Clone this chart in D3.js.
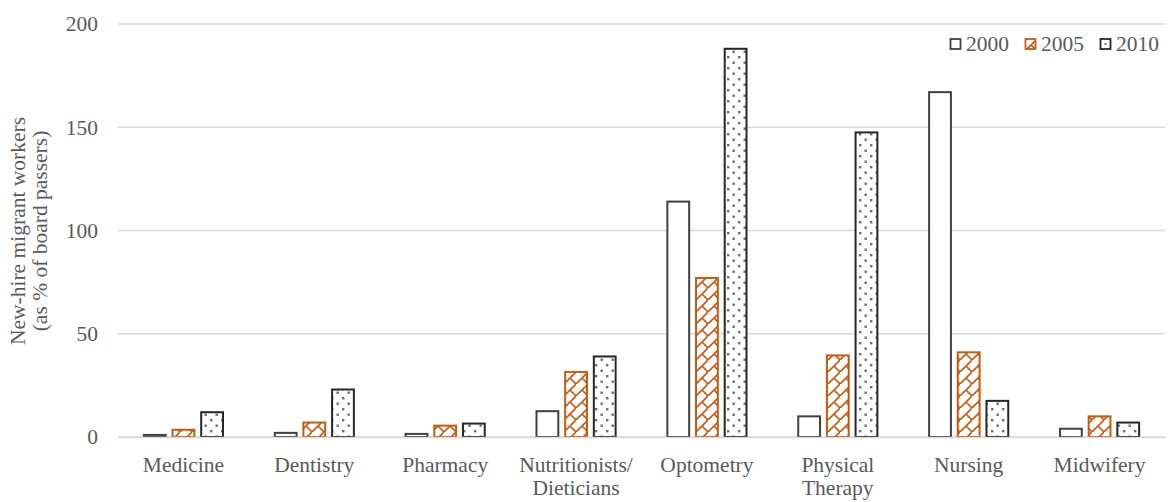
<!DOCTYPE html>
<html><head><meta charset="utf-8">
<script src="https://cdn.jsdelivr.net/npm/d3@7"></script>
<style>body{margin:0;background:#fff;} text{font-family:"Liberation Serif","Times New Roman",serif;}</style>
</head><body>
<svg id="c" width="1170" height="502"></svg>
<script>
const categories = ["Medicine","Dentistry","Pharmacy","Nutritionists/\nDieticians","Optometry","Physical\nTherapy","Nursing","Midwifery"];
const seriesNames = ["2000","2005","2010"];
const s2000 = [1, 2, 1.5, 12.5, 114, 10, 167, 4];
const s2005 = [3.5, 7, 5.5, 31.5, 77, 39.5, 41, 10];
const s2010 = [12, 23, 6.5, 39, 188, 147.5, 17.5, 7];
const yTicks = [0, 50, 100, 150, 200];

const svg = d3.select("#c");
const L = 118, R = 1165, T = 24, B = 437;
const FS = 21.5;
const defs = svg.append("defs");
const pb = defs.append("pattern").attr("id","brick").attr("patternUnits","userSpaceOnUse").attr("width",12).attr("height",12);
pb.append("rect").attr("width",12).attr("height",12).attr("fill","#fff");
pb.append("path").attr("d","M-1,13L13,-1M6,6L12,12M-6,6L0,12M6,-6L12,0").attr("stroke","#C55A11").attr("stroke-width",1.6).attr("fill","none");
const pd = defs.append("pattern").attr("id","dots").attr("patternUnits","userSpaceOnUse").attr("width",11).attr("height",11);
pd.append("rect").attr("width",11).attr("height",11).attr("fill","#fff");
pd.append("rect").attr("x",1).attr("y",1).attr("width",2.4).attr("height",2.4).attr("fill","#6e6e6e");
pd.append("rect").attr("x",6.5).attr("y",6.5).attr("width",2.4).attr("height",2.4).attr("fill","#6e6e6e");

const y = d3.scaleLinear().domain([0,200]).range([B,T]);
const x0 = d3.scaleBand().domain(d3.range(categories.length)).range([L,R]).paddingInner(0.38).paddingOuter(0.19);
const x1 = d3.scaleBand().domain(seriesNames).range([0,x0.bandwidth()]).paddingInner(0.17);

// gridlines
svg.append("g").selectAll("line").data(yTicks).join("line")
  .attr("x1",L).attr("x2",R).attr("y1",d=>y(d)).attr("y2",d=>y(d))
  .attr("stroke","#d9d9d9").attr("stroke-width",1.3);

// y axis labels
const yAxis = d3.axisLeft(y).tickValues(yTicks).tickSize(0).tickPadding(20);
const ga = svg.append("g").attr("transform",`translate(${L},0)`).call(yAxis);
ga.select(".domain").remove();
ga.selectAll("text").attr("font-size",FS).attr("fill","#595959").style("font-family","'Liberation Serif',serif");

const styles = {
  "2000": {fill:"#fff", stroke:"#404040"},
  "2005": {fill:"url(#brick)", stroke:"#C55A11"},
  "2010": {fill:"url(#dots)", stroke:"#262626"}
};
const data = [s2000, s2005, s2010];
seriesNames.forEach((s,si)=>{
  svg.append("g").selectAll("rect").data(data[si]).join("rect")
    .attr("x",(d,i)=>x0(i)+x1(s)+1)
    .attr("y",d=>y(d))
    .attr("width",x1.bandwidth()-2)
    .attr("height",d=>B-y(d))
    .attr("fill",styles[s].fill)
    .attr("stroke",styles[s].stroke)
    .attr("stroke-width",2);
});

// baseline
svg.append("line").attr("x1",L).attr("x2",R).attr("y1",B+0.5).attr("y2",B+0.5).attr("stroke","#d9d9d9").attr("stroke-width",1.5);

// category labels
const gx = svg.append("g");
categories.forEach((c,i)=>{
  const cx = x0(i)+x0.bandwidth()/2;
  const t = gx.append("text").attr("x",cx).attr("y",472)
    .attr("text-anchor","middle").attr("font-size",FS).attr("fill","#595959");
  c.split("\n").forEach((ln,k)=>t.append("tspan").attr("x",cx).attr("dy",k?23:0).text(ln));
});

// y title
const yt = svg.append("text").attr("transform","translate(0,231) rotate(-90)").attr("text-anchor","middle").attr("font-size",FS).attr("fill","#595959");
yt.append("tspan").attr("x",0).attr("y",25).text("New-hire migrant workers");
yt.append("tspan").attr("x",0).attr("y",47).text("(as % of board passers)");

// legend
const lx = [950, 1025, 1100];
seriesNames.forEach((s,i)=>{
  const g = svg.append("g").attr("transform",`translate(${lx[i]},39)`);
  g.append("rect").attr("x",0.5).attr("y",0).attr("width",10).attr("height",10)
    .attr("fill", s==="2005" ? "url(#brick)" : "#fff")
    .attr("stroke",styles[s].stroke).attr("stroke-width",1.8);
  if (s==="2010") g.append("rect").attr("x",4.5).attr("y",4).attr("width",2).attr("height",2).attr("fill","#777");
  g.append("text").attr("x",16).attr("y",12).attr("font-size",FS).attr("fill","#595959").text(s);
});
</script>
</body></html>
